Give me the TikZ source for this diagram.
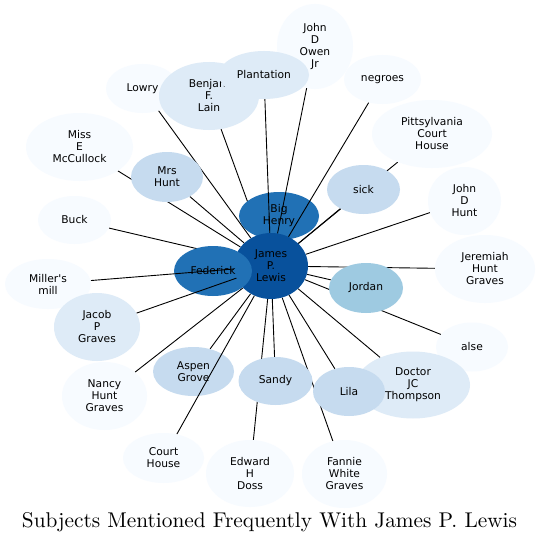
\documentclass[tikz,border=0pt]{standalone}
\usepackage{fontspec}
\usepackage{graphicx}
\newfontfamily\nodefont{DejaVu Sans}
\usetikzlibrary{shapes.geometric}
\definecolor{cA}{HTML}{08519C}
\definecolor{cB}{HTML}{2171B5}
\definecolor{cC}{HTML}{9ECAE1}
\definecolor{cD}{HTML}{C6DBEF}
\definecolor{cE}{HTML}{DEEBF7}
\definecolor{cF}{HTML}{F7FBFF}
\pgfdeclarelayer{bg}
\pgfdeclarelayer{edgesbelow}
\pgfdeclarelayer{nodesbelow}
\pgfdeclarelayer{edgesabove}
\pgfsetlayers{bg,edgesbelow,nodesbelow,edgesabove,main}
\tikzset{
  ent/.style={ellipse, inner sep=0pt, align=center, text=black,
    font=\nodefont\fontsize{10.7}{12}\selectfont},
  sz/.style 2 args={minimum width=#1pt, minimum height=#2pt},
  link/.style={draw=black, line width=0.9pt}
}
\begin{document}
\begin{tikzpicture}[x=1pt,y=-1pt]
\useasboundingbox (0,0) rectangle (540,543);
\begin{pgfonlayer}{bg}
\fill[white] (0,0) rectangle (540,543);
\end{pgfonlayer}
% lower node layer
\begin{pgfonlayer}{nodesbelow}
\node[ent, fill=cB, sz={80}{48}] (bighenry) at (279,216) {Big\\Henry};
\node[ent, fill=cA, sz={74}{66}] (james) at (271,266) {James\\P.\\Lewis};
\node[ent, fill=cB, sz={78}{50}] (federick) at (213,271) {Federick};
\node[ent, fill=cD, sz={81}{49}] (aspen) at (193.5,371.5) {Aspen\\Grove};
\end{pgfonlayer}
% main node layer
\node[ent, fill=cF, sz={73}{49}] (lowry) at (142.5,88.5) {Lowry};
\node[ent, fill=cE, sz={100}{68}] (benjamin) at (209,96) {Benjan.\\F.\\Lain};
\node[ent, fill=cF, sz={76}{85}] (johnowen) at (315,46.5) {John\\D\\Owen\\Jr};
\node[ent, fill=cE, sz={90}{48}] (plantation) at (264,75) {Plantation};
\node[ent, fill=cF, sz={77}{49}] (negroes) at (382.5,79.5) {negroes};
\node[ent, fill=cF, sz={120}{68}] (pitts) at (432,134) {Pittsylvania\\Court\\House};
\node[ent, fill=cD, sz={73}{49}] (sick) at (363.5,189.5) {sick};
\node[ent, fill=cF, sz={73}{68}] (johnhunt) at (464.5,201) {John\\D\\Hunt};
\node[ent, fill=cF, sz={100}{68}] (jeremiah) at (485,269) {Jeremiah\\Hunt\\Graves};
\node[ent, fill=cC, sz={74}{50}] (jordan) at (366,288) {Jordan};
\node[ent, fill=cF, sz={72}{49}] (alse) at (472,347) {alse};
\node[ent, fill=cE, sz={114}{67}] (doctor) at (413,385) {Doctor\\JC\\Thompson};
\node[ent, fill=cD, sz={72}{49}] (lila) at (349,391.5) {Lila};
\node[ent, fill=cF, sz={85}{68}] (fannie) at (344.5,474) {Fannie\\White\\Graves};
\node[ent, fill=cD, sz={74}{48}] (sandy) at (275.5,381) {Sandy};
\node[ent, fill=cF, sz={88}{67}] (edward) at (250,473.5) {Edward\\H\\Doss};
\node[ent, fill=cF, sz={81}{50}] (court) at (163.5,458) {Court\\House};
\node[ent, fill=cF, sz={85}{68}] (nancy) at (104.5,396) {Nancy\\Hunt\\Graves};
\node[ent, fill=cF, sz={86}{50}] (miller) at (48,284) {Miller's\\mill};
\node[ent, fill=cE, sz={86}{68}] (jacob) at (97,327) {Jacob\\P\\Graves};
\node[ent, fill=cF, sz={73}{48}] (buck) at (74.5,220) {Buck};
\node[ent, fill=cF, sz={107}{68}] (mccullock) at (79.5,147) {Miss\\E\\McCullock};
\node[ent, fill=cD, sz={72}{50}] (mrshunt) at (167,177) {Mrs\\Hunt};
% edges below nodes
\begin{pgfonlayer}{edgesbelow}
\foreach \t in {lowry,benjamin,pitts,sick,johnhunt,jeremiah,jordan,alse,doctor,lila,fannie,sandy,edward,aspen,nancy,buck,mccullock,mrshunt,federick,bighenry}
  \draw[link] (james) -- (\t);
\end{pgfonlayer}
% edges above the lower nodes
\begin{pgfonlayer}{edgesabove}
\foreach \t in {plantation,johnowen,negroes,miller,jacob,court}
  \draw[link] (james) -- (\t);
\end{pgfonlayer}
% title
\node[anchor=base, inner sep=0pt] (title) at (269.5,527) {\resizebox{495pt}{!}{Subjects Mentioned Frequently With James P. Lewis}};
\end{tikzpicture}
\end{document}
